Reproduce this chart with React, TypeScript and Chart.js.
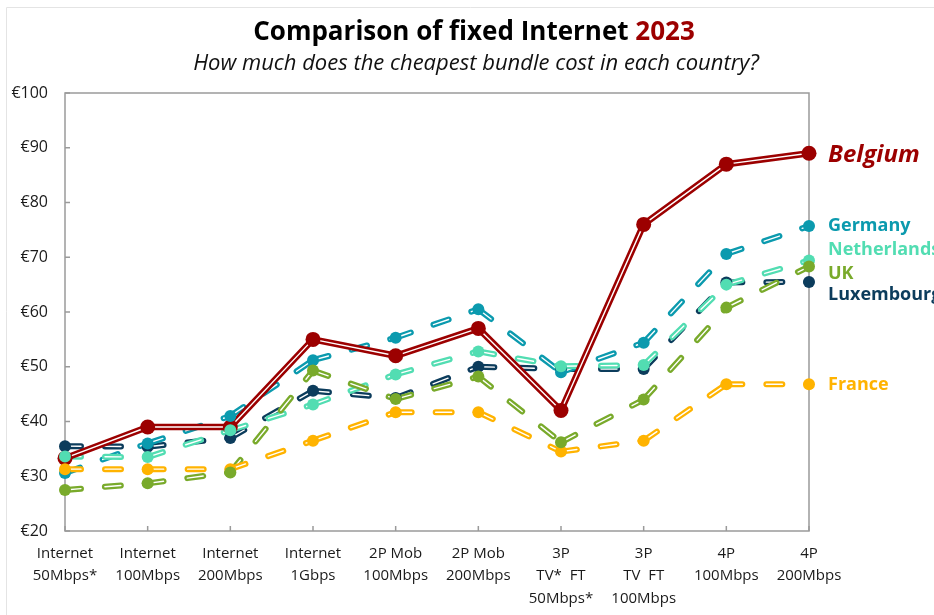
import React, { useEffect, useRef } from "react";
import { Chart, registerables } from "chart.js";

Chart.register(...registerables);

const categories: string[][] = [
  ["Internet", "50Mbps*"],
  ["Internet", "100Mbps"],
  ["Internet", "200Mbps"],
  ["Internet", "1Gbps"],
  ["2P Mob", "100Mbps"],
  ["2P Mob", "200Mbps"],
  ["3P", "TV*  FT", "50Mbps*"],
  ["3P", "TV  FT", "100Mbps"],
  ["4P", "100Mbps"],
  ["4P", "200Mbps"],
];

const belgium = [33.3, 39, 39, 55, 52, 57, 42, 76, 87, 89];
const germany = [30.6, 36, 41, 51.2, 55.3, 60.5, 49, 54.4, 70.6, 75.7];
const netherlands = [33.6, 33.5, 38.4, 43.1, 48.6, 52.8, 50.1, 50.3, 65, 69.4];
const uk = [27.5, 28.7, 30.7, 49.3, 44.1, 48.2, 36.2, 44, 60.8, 68.3];
const luxembourg = [35.5, 35.4, 37, 45.6, 44.3, 50, 49.6, 49.6, 65.4, 65.5];
const france = [31.3, 31.3, 31.3, 36.5, 41.7, 41.7, 34.5, 36.5, 46.8, 46.8];

const yTicks = [20, 30, 40, 50, 60, 70, 80, 90, 100];

const titleMain = "Comparison of fixed Internet ";
const titleYear = "2023";
const subtitle = "How much does the cheapest bundle cost in each country?";

type Series = {
  name: string;
  data: number[];
  color: string;
  dashed: boolean;
  labelDy: number;
  labelFont: string;
};

const series: Series[] = [
  { name: "Belgium", data: belgium, color: "#9C0000", dashed: false, labelDy: 2, labelFont: "italic bold 24px 'Open Sans'" },
  { name: "Germany", data: germany, color: "#0B9AAE", dashed: true, labelDy: 0, labelFont: "bold 18px 'Open Sans'" },
  { name: "Netherlands", data: netherlands, color: "#52DDB2", dashed: true, labelDy: -11, labelFont: "bold 18px 'Open Sans'" },
  { name: "UK", data: uk, color: "#79AA2B", dashed: true, labelDy: 7, labelFont: "bold 18px 'Open Sans'" },
  { name: "Luxembourg", data: luxembourg, color: "#0C3C5C", dashed: true, labelDy: 13, labelFont: "bold 18px 'Open Sans'" },
  { name: "France", data: france, color: "#FFB300", dashed: true, labelDy: 1, labelFont: "bold 18px 'Open Sans'" },
];

const lineOrder = ["Luxembourg", "Germany", "Netherlands", "UK", "France", "Belgium"];
const markerOrder = ["Belgium", "Luxembourg", "Germany", "France", "Netherlands", "UK"];

const DASH = [16, 24];

const decorPlugin = {
  id: "decor",
  beforeDatasetsDraw(chart: any) {
    const { ctx, chartArea: a, scales } = chart;
    ctx.save();
    // card border
    ctx.strokeStyle = "#e4e4e4";
    ctx.lineWidth = 1;
    ctx.beginPath();
    ctx.moveTo(6.5, 2000);
    ctx.lineTo(6.5, 7.5);
    ctx.lineTo(2000, 7.5);
    ctx.stroke();
    // frame
    ctx.strokeStyle = "#9a9a9a";
    ctx.lineWidth = 1.5;
    ctx.strokeRect(a.left, a.top, a.right - a.left, a.bottom - a.top);
    // inward ticks
    ctx.beginPath();
    for (const v of yTicks) {
      const y = scales.y.getPixelForValue(v);
      ctx.moveTo(a.left, y);
      ctx.lineTo(a.left + 5, y);
    }
    for (let i = 0; i < categories.length; i++) {
      const x = scales.x.getPixelForValue(i);
      ctx.moveTo(x, a.bottom);
      ctx.lineTo(x, a.bottom - 5);
    }
    ctx.stroke();
    ctx.restore();
  },
  afterDraw(chart: any) {
    const { ctx, chartArea: a, scales } = chart;
    ctx.save();
    // title
    ctx.textBaseline = "alphabetic";
    ctx.font = "bold 26px 'Open Sans'";
    const w1 = ctx.measureText(titleMain).width;
    const w2 = ctx.measureText(titleYear).width;
    const cx = 474;
    const x0 = cx - (w1 + w2) / 2;
    ctx.textAlign = "left";
    ctx.fillStyle = "#000000";
    ctx.fillText(titleMain, x0, 40);
    ctx.fillStyle = "#9C0000";
    ctx.fillText(titleYear, x0 + w1, 40);
    ctx.font = "italic 22px 'Open Sans'";
    ctx.fillStyle = "#111111";
    ctx.textAlign = "center";
    ctx.fillText(subtitle, 476, 70);
    // right labels
    ctx.textAlign = "left";
    ctx.textBaseline = "middle";
    for (const s of series) {
      const y = scales.y.getPixelForValue(s.data[s.data.length - 1]) + s.labelDy;
      ctx.font = s.labelFont;
      ctx.fillStyle = s.color;
      ctx.fillText(s.name, a.right + 19, y);
    }
    ctx.restore();
  },
};

export default function App() {
  const ref = useRef<HTMLCanvasElement | null>(null);
  useEffect(() => {
    document.body.style.margin = "0";
    const canvas = ref.current;
    if (!canvas) return;
    const byName = (n: string) => series.find((s) => s.name === n)!;
    const datasets: any[] = [];
    let drawIdx = 0;
    const push = (d: any) => {
      d.order = 1000 - drawIdx;
      drawIdx++;
      datasets.push(d);
    };
    for (const n of lineOrder) {
      const s = byName(n);
      const w = s.dashed ? 6 : 6.5;
      const seg = s.dashed
        ? { borderDashOffset: (c: any) => -c.p0DataIndex * 0.001 }
        : undefined;
      push({
        label: s.name,
        data: s.data,
        borderColor: s.color,
        backgroundColor: s.color,
        borderWidth: w,
        borderDash: s.dashed ? DASH : [],
        borderCapStyle: "round",
        borderJoinStyle: "round",
        pointRadius: 0,
        tension: 0,
        clip: false,
        segment: seg,
      });
      push({
        label: s.name + " inner",
        data: s.data,
        borderColor: "#ffffff",
        backgroundColor: "#ffffff",
        borderWidth: 1.4,
        borderDash: s.dashed ? DASH : [],
        borderCapStyle: "round",
        borderJoinStyle: "round",
        pointRadius: 0,
        tension: 0,
        clip: false,
        segment: seg,
      });
    }
    for (const n of markerOrder) {
      const s = byName(n);
      push({
        label: s.name + " markers",
        data: s.data,
        showLine: false,
        pointRadius: s.dashed ? 6 : 7.5,
        pointBackgroundColor: s.color,
        pointBorderWidth: 0,
        pointBorderColor: s.color,
        clip: false,
      });
    }
    const chart = new Chart(canvas, {
      type: "line",
      data: { labels: categories as any, datasets },
      options: {
        responsive: false,
        animation: false,
        events: [],
        layout: { padding: { top: 93, right: 125, bottom: 0, left: 0 } },
        plugins: {
          legend: { display: false },
          tooltip: { enabled: false },
          title: { display: false },
        },
        scales: {
          x: {
            offset: false,
            grid: { display: false, drawTicks: false },
            border: { display: false },
            ticks: {
              autoSkip: false,
              maxRotation: 0,
              minRotation: 0,
              padding: 11,
              color: "#1a1a1a",
              font: { family: "'Open Sans'", size: 15, lineHeight: 1.5 },
            },
            afterFit: (s: any) => {
              s.height = 84;
            },
          },
          y: {
            min: 20,
            max: 100,
            grid: { display: false, drawTicks: false },
            border: { display: false },
            ticks: {
              stepSize: 10,
              padding: 17,
              color: "#1a1a1a",
              font: { family: "'Open Sans'", size: 16 },
              callback: (v: any) => "€" + v,
            },
            afterFit: (s: any) => {
              s.width = 65;
            },
          },
        },
      },
      plugins: [decorPlugin],
    });
    return () => chart.destroy();
  }, []);
  return (
    <div style={{ width: 934, height: 615 }}>
      <canvas ref={ref} width={934} height={615} style={{ display: "block" }} />
    </div>
  );
}
